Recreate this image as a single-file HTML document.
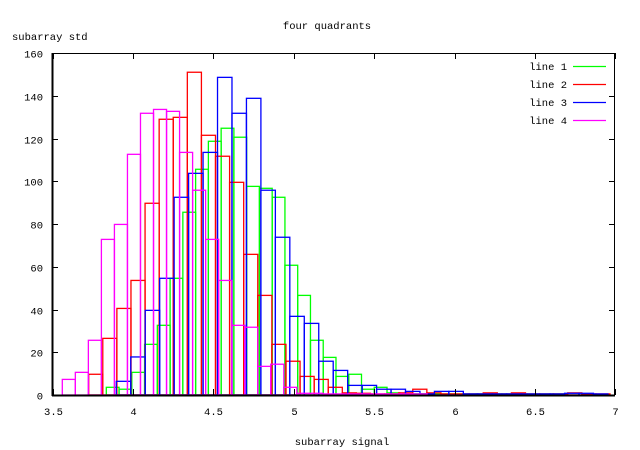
<!DOCTYPE html>
<html><head><meta charset="utf-8">
<style>
html,body{margin:0;padding:0;background:#fff;}
svg{display:block;}
text{font-family:"Liberation Mono",monospace;font-size:10.5px;fill:#000;}
</style></head>
<body>
<svg id="s" width="640" height="450" viewBox="0 0 640 450" xmlns="http://www.w3.org/2000/svg">
<rect width="640" height="450" fill="#fff"/>
<g id="series" fill="none" stroke-width="1.3"></g>
<rect x="52.5" y="53.5" width="562" height="341.5" fill="none" stroke="#000" stroke-width="1"/>
<line x1="52.5" y1="53" x2="52.5" y2="396" stroke="#000" stroke-width="2"/>
<line x1="52" y1="395.5" x2="615" y2="395.5" stroke="#000" stroke-width="2"/>
<g id="ticks" stroke="#000" stroke-width="1"></g>
<g id="labels"></g>
<text x="327" y="29" text-anchor="middle">four quadrants</text>
<text x="12" y="40">subarray std</text>
<text x="342" y="445" text-anchor="middle">subarray signal</text>
<text x="567" y="70" text-anchor="end">line 1</text>
<text x="567" y="88" text-anchor="end">line 2</text>
<text x="567" y="106" text-anchor="end">line 3</text>
<text x="567" y="124" text-anchor="end">line 4</text>
<line x1="573" y1="66.5" x2="606" y2="66.5" stroke="#00ff00" stroke-width="1.3"/>
<line x1="573" y1="84.5" x2="606" y2="84.5" stroke="#ff0000" stroke-width="1.3"/>
<line x1="573" y1="102.5" x2="606" y2="102.5" stroke="#0000ff" stroke-width="1.3"/>
<line x1="573" y1="120.5" x2="606" y2="120.5" stroke="#ff00ff" stroke-width="1.3"/>
</svg>
<script>
var NS="http://www.w3.org/2000/svg";
function Y(v){return 395-v*2.1375;}
var series=[
 {c:"#00ff00",x0:106.3,w:12.76,v:[3.6,2.7,10.6,23.7,32.6,54.6,85.5,105.6,118.7,124.8,120.6,97.6,96.7,92.5,60.7,46.6,25.6,17.6,8.7,9.7,2.7,3.6,1,0.8,0.6,0.5,0.5,0.5,0.5,0.5,0.5,0.5,0.5,0.5,0.5,0.5]},
 {c:"#ff0000",x0:88.7,w:14.09,v:[9.7,26.5,40.5,53.6,89.7,129,129.9,151,121.5,111.7,99.5,65.8,46.6,23.7,15.8,8.7,7.3,3.6,1,0.8,0.5,0.5,1,2.7,1,0.5,0.5,0.5,1,0.5,1,0.5,0.5,0.5,1,0.5,0.5]},
 {c:"#0000ff",x0:116.3,w:14.46,v:[6.4,17.8,39.6,54.6,92.5,103.7,113.5,148.6,131.8,138.8,95.8,73.8,36.8,33.5,15.8,11.5,4.5,4.5,2.7,2.7,1.7,0.5,1.7,1.7,0.5,0.5,0.5,0.5,0.5,0.5,0.5,0.8,0.8,0.5]},
 {c:"#ff00ff",x0:62.3,w:13.03,v:[7.3,10.6,25.6,72.8,79.8,112.6,131.8,133.6,132.7,113.5,95.8,72.8,53.6,32.6,31.7,13.4,14.4,3.6,0.8,0.8,0.5,0.5,0.5,0.5,0.5,0.5,0.5,0.5]}
];
var g=document.getElementById("series");
series.forEach(function(s){
 s.v.forEach(function(v,i){
  var r=document.createElementNS(NS,"rect");
  var x=s.x0+i*s.w, y=Y(v);
  r.setAttribute("x",x);r.setAttribute("y",y);
  r.setAttribute("width",s.w);r.setAttribute("height",395-y);
  r.setAttribute("stroke",s.c);
  g.appendChild(r);
 });
});
var t=document.getElementById("ticks"),L=document.getElementById("labels");
function ln(x1,y1,x2,y2){var l=document.createElementNS(NS,"line");l.setAttribute("x1",x1);l.setAttribute("y1",y1);l.setAttribute("x2",x2);l.setAttribute("y2",y2);t.appendChild(l);}
function tx(x,y,s,a){var e=document.createElementNS(NS,"text");e.setAttribute("x",x);e.setAttribute("y",y);e.setAttribute("text-anchor",a);e.textContent=s;L.appendChild(e);}
for(var v=0;v<=160;v+=20){var y=Math.round(Y(v))+0.5;ln(52,y,58,y);ln(609,y,615,y);tx(43,y+4,String(v),"end");}
var xl=["3.5","4","4.5","5","5.5","6","6.5","7"];
for(var i=0;i<8;i++){var x=Math.round(52.6+i*80.4)+0.5;ln(x,395,x,389);ln(x,53,x,59);tx(x,415,xl[i],"middle");}
</script>
</body></html>
